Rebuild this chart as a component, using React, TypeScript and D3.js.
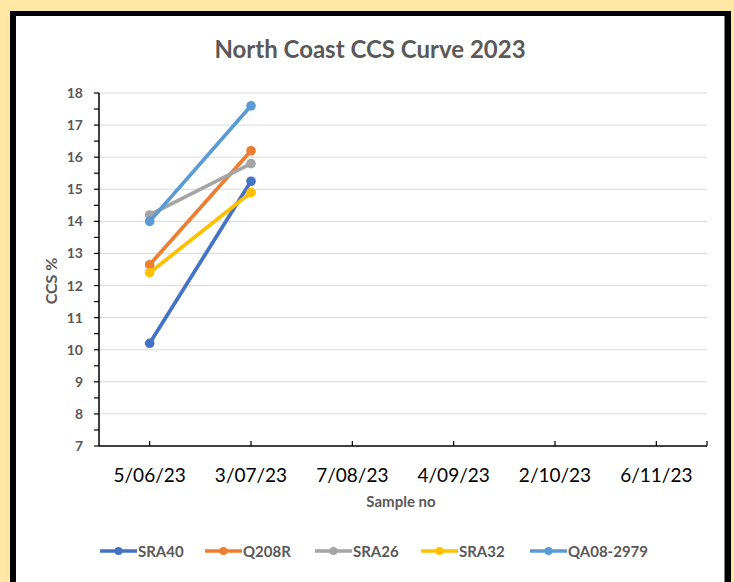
import React, { useEffect } from "react";
import * as d3 from "d3";

const categories = ["5/06/23", "3/07/23", "7/08/23", "4/09/23", "2/10/23", "6/11/23"];
const seriesNames = ["SRA40", "Q208R", "SRA26", "SRA32", "QA08-2979"];
const sra40 = [10.2, 15.25];
const q208r = [12.65, 16.2];
const sra26 = [14.2, 15.8];
const sra32 = [12.4, 14.9];
const qa08 = [14.0, 17.6];
const yTicks = [7, 8, 9, 10, 11, 12, 13, 14, 15, 16, 17, 18];
const colors = ["#4472C4", "#ED7D31", "#A5A5A5", "#FFC000", "#5B9BD5"];

const W = 734;
const H = 582;
const FONT = "Lato, 'Open Sans', sans-serif";

export default function App() {
    useEffect(() => {
        document.body.style.margin = "0";
    }, []);

    const series = [sra40, q208r, sra26, sra32, qa08];

    const x = d3.scaleBand<string>().domain(categories).range([99, 707]);
    const y = d3.scaleLinear().domain([7, 18]).range([446, 93]);
    const cx = (c: string) => (x(c) ?? 0) + x.bandwidth() / 2;

    const line = d3
        .line<number>()
        .x((d, i) => cx(categories[i]))
        .y((d) => y(d));

    const minorTicks = d3.range(7, 18.01, 0.5);

    // legend layout
    const legendX = [100, 205, 315, 421, 530];
    const legendY = 551;

    return (
        <div style={{ position: "fixed", left: 0, top: 0 }}>
            <svg width={W} height={H} style={{ display: "block" }}>
                <rect x={0} y={0} width={W} height={H} fill="#FFE8A6" />
                <rect x={10} y={11} width={721} height={H} fill="#000" />
                <rect x={16} y={16} width={708} height={H} fill="#fff" />
                <line x1={724.5} x2={724.5} y1={16} y2={H} stroke="#7f7f7f" strokeWidth={1} />

                <text x={370} y={58} textAnchor="middle" fontFamily={FONT} fontWeight="bold" fontSize={24} fill="#595959">
                    North Coast CCS Curve 2023
                </text>

                {/* gridlines */}
                {yTicks.slice(1).map((t) => (
                    <line key={t} x1={99} x2={707} y1={y(t)} y2={y(t)} stroke="#D9D9D9" strokeWidth={1} />
                ))}

                {/* y axis */}
                <line x1={99} x2={99} y1={y(18)} y2={y(7)} stroke="#000" strokeWidth={1.5} />
                {minorTicks.map((t) => (
                    <line key={t} x1={94} x2={99} y1={y(t)} y2={y(t)} stroke="#000" strokeWidth={1.2} />
                ))}
                {yTicks.map((t) => (
                    <text key={t} x={83} y={y(t) + 5} textAnchor="end" fontFamily={FONT} fontWeight="bold" fontSize={14} fill="#595959">
                        {t}
                    </text>
                ))}
                <text
                    transform={`translate(57,${281}) rotate(-90)`}
                    textAnchor="middle"
                    fontFamily={FONT}
                    fontWeight="bold"
                    fontSize={16}
                    fill="#595959"
                >
                    CCS %
                </text>

                {/* x axis */}
                <line x1={99} x2={707} y1={y(7)} y2={y(7)} stroke="#000" strokeWidth={1.5} />
                {categories.map((c) => (
                    <line key={c} x1={cx(c)} x2={cx(c)} y1={y(7) - 5} y2={y(7)} stroke="#000" strokeWidth={1.2} />
                ))}
                <line x1={707} x2={707} y1={y(7) - 5} y2={y(7)} stroke="#000" strokeWidth={1.2} />
                {categories.map((c) => (
                    <text key={c} x={cx(c)} y={482} textAnchor="middle" fontFamily={FONT} fontSize={19} fill="#000">
                        {c}
                    </text>
                ))}
                <text x={401} y={507} textAnchor="middle" fontFamily={FONT} fontWeight="bold" fontSize={15} fill="#595959">
                    Sample no
                </text>

                {/* series */}
                {series.map((s, k) => (
                    <g key={seriesNames[k]}>
                        <path d={line(s) ?? ""} fill="none" stroke={colors[k]} strokeWidth={3.7} strokeLinecap="round" />
                        {s.map((v, i) => (
                            <circle key={i} cx={cx(categories[i])} cy={y(v)} r={4.8} fill={colors[k]} />
                        ))}
                    </g>
                ))}

                {/* legend */}
                {seriesNames.map((n, k) => (
                    <g key={n}>
                        <line x1={legendX[k]} x2={legendX[k] + 37} y1={legendY} y2={legendY} stroke={colors[k]} strokeWidth={3.7} />
                        <circle cx={legendX[k] + 18.5} cy={legendY} r={4} fill={colors[k]} />
                        <text x={legendX[k] + 38} y={legendY + 5.5} fontFamily={FONT} fontWeight="bold" fontSize={15} fill="#595959">
                            {n}
                        </text>
                    </g>
                ))}
            </svg>
        </div>
    );
}
